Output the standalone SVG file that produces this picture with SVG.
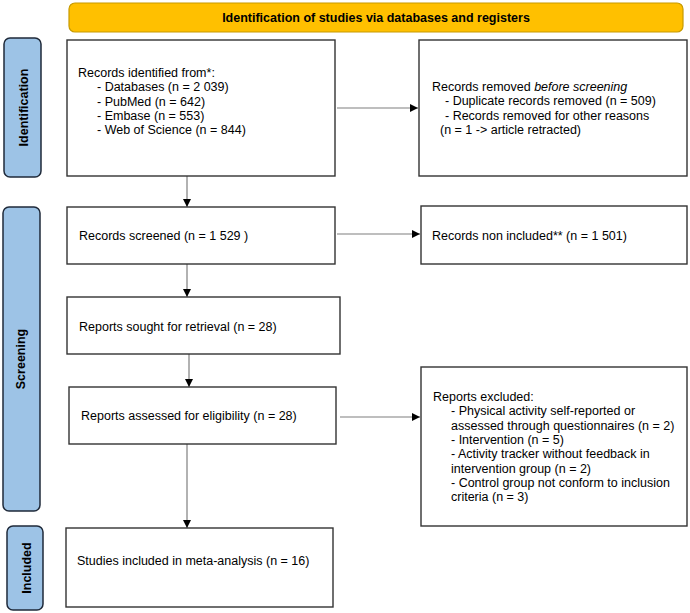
<svg xmlns="http://www.w3.org/2000/svg" width="690" height="613" viewBox="0 0 690 613">
<style>
text{font-family:"Liberation Sans",Arial,sans-serif;font-size:12.5px;fill:#000}
.b{font-weight:bold}
.box{fill:#fff;stroke:#333;stroke-width:1.4}
.side{fill:#9DC3E6;stroke:#1f2a3a;stroke-width:1.5}
.hdr{fill:#FFC000;stroke:#C79A00;stroke-width:1.2}
.con{stroke:#7f7f7f;stroke-width:1.2;fill:none}
</style>
<defs>
<marker id="ah" markerUnits="userSpaceOnUse" markerWidth="9" markerHeight="9" refX="8" refY="4" orient="auto">
<path d="M0,0 L8,4 L0,8 z" fill="#000"/>
</marker>
</defs>
<rect width="690" height="613" fill="#fff"/>
<g id="header">
<rect class="hdr" x="69" y="3" width="614" height="29" rx="6"/>
<text class="b" x="376" y="22" text-anchor="middle">Identification of studies via databases and registers</text>
</g>
<g id="side-identification">
<rect class="side" x="4" y="38" width="37" height="139" rx="6"/>
<text class="b" transform="translate(27.5,107.5) rotate(-90)" text-anchor="middle">Identification</text>
</g>
<g id="side-screening">
<rect class="side" x="3" y="207" width="37" height="304" rx="6"/>
<text class="b" transform="translate(25,359) rotate(-90)" text-anchor="middle">Screening</text>
</g>
<g id="side-included">
<rect class="side" x="7" y="526" width="36" height="84" rx="6"/>
<text class="b" transform="translate(30.5,568) rotate(-90)" text-anchor="middle">Included</text>
</g>
<g id="connectors">
<line class="con" x1="187" y1="176" x2="187" y2="207" marker-end="url(#ah)"/>
<line class="con" x1="337" y1="108" x2="418" y2="108" marker-end="url(#ah)"/>
<line class="con" x1="337" y1="234" x2="420" y2="234" marker-end="url(#ah)"/>
<line class="con" x1="187" y1="264" x2="187" y2="297" marker-end="url(#ah)"/>
<line class="con" x1="189" y1="354" x2="189" y2="387" marker-end="url(#ah)"/>
<line class="con" x1="340" y1="417" x2="420" y2="417" marker-end="url(#ah)"/>
<line class="con" x1="187" y1="444" x2="187" y2="528" marker-end="url(#ah)"/>
</g>
<g id="records-identified">
<rect class="box" x="67" y="40" width="268" height="136"/>
<text x="78" y="77">Records identified from*:</text>
<text x="97" y="91.4">- Databases (n = 2 039)</text>
<text x="97" y="105.7">- PubMed (n = 642)</text>
<text x="97" y="120">- Embase (n = 553)</text>
<text x="97" y="134.4">- Web of Science (n = 844)</text>
</g>
<g id="records-removed">
<rect class="box" x="419" y="40" width="268" height="136"/>
<text x="432" y="91">Records removed <tspan font-style="italic">before screening</tspan></text>
<text x="445" y="105.4">- Duplicate records removed  (n = 509)</text>
<text x="445" y="119.7">- Records removed for other reasons</text>
<text x="440" y="134">(n = 1 -&gt; article retracted)</text>
</g>
<g id="records-screened">
<rect class="box" x="67" y="207" width="268" height="57"/>
<text x="79" y="240">Records screened (n = 1 529 )</text>
</g>
<g id="records-non-included">
<rect class="box" x="421" y="206" width="266" height="58"/>
<text x="432" y="240">Records non included** (n = 1 501)</text>
</g>
<g id="reports-sought">
<rect class="box" x="67" y="297" width="273" height="57"/>
<text x="79" y="331">Reports sought for retrieval (n = 28)</text>
</g>
<g id="reports-assessed">
<rect class="box" x="69" y="387" width="267" height="57"/>
<text x="81" y="420">Reports assessed for eligibility (n = 28)</text>
</g>
<g id="reports-excluded">
<rect class="box" x="421" y="367" width="266" height="159"/>
<text x="433" y="401">Reports excluded:</text>
<text x="451" y="415.4">- Physical activity self-reported or</text>
<text x="451" y="429.7">assessed through questionnaires (n = 2)</text>
<text x="451" y="444">- Intervention (n = 5)</text>
<text x="451" y="458.4">- Activity tracker without feedback in</text>
<text x="451" y="472.7">intervention group (n = 2)</text>
<text x="451" y="487">- Control group not conform to inclusion</text>
<text x="451" y="501.4">criteria (n = 3)</text>
</g>
<g id="studies-included">
<rect class="box" x="66" y="528" width="267" height="79"/>
<text x="77" y="565">Studies included in meta-analysis (n = 16)</text>
</g>
</svg>
